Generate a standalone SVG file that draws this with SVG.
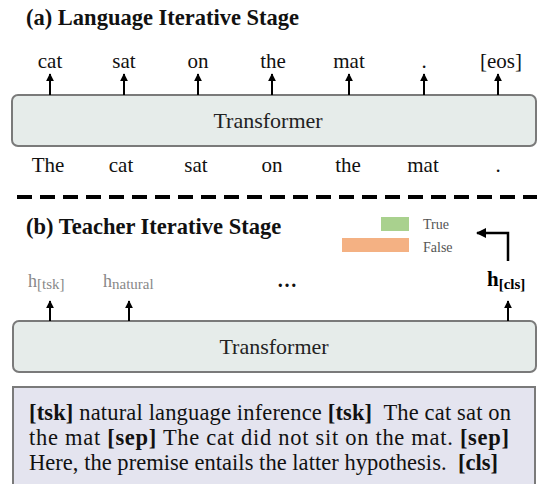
<svg xmlns="http://www.w3.org/2000/svg" width="537" height="484" viewBox="0 0 537 484">
<style>
text{font-family:"Liberation Serif","Times New Roman",serif;}
.t{font-size:21px;fill:#111;text-anchor:middle;}
.title{font-size:22.5px;font-weight:bold;fill:#111;}
.box{fill:#e6ecea;stroke:#7a7a7a;stroke-width:2;}
.lbl{font-size:22px;fill:#222;text-anchor:middle;}
.h{font-size:18px;fill:#888;}
.leg{font-size:14px;fill:#555;}
.body{font-size:22.5px;fill:#111;}
.b{font-weight:bold;}
.conn line,.conn polyline{stroke:#000;stroke-width:2;fill:none;}
</style>
<defs>
<marker id="ah" viewBox="0 0 10 10" refX="9" refY="5" markerWidth="4" markerHeight="4" orient="auto" markerUnits="strokeWidth">
<path d="M0,0 L10,5 L0,10 z" fill="#000"/>
</marker>
</defs>

<g id="title-a"><text class="title" x="26" y="25">(a) Language Iterative Stage</text></g>

<g id="outputs-a">
<text class="t" x="50" y="68">cat</text>
<text class="t" x="124" y="68">sat</text>
<text class="t" x="198" y="68">on</text>
<text class="t" x="273" y="68">the</text>
<text class="t" x="349" y="68">mat</text>
<text class="t" x="424" y="68">.</text>
<text class="t" x="501" y="68">[eos]</text>
</g>

<g id="transformer-a">
<rect class="box" x="12" y="95" width="524" height="51" rx="6"/>
<text class="lbl" x="268" y="128">Transformer</text>
</g>

<g id="inputs-a">
<text class="t" x="48" y="172">The</text>
<text class="t" x="121" y="172">cat</text>
<text class="t" x="196" y="172">sat</text>
<text class="t" x="272" y="172">on</text>
<text class="t" x="348" y="172">the</text>
<text class="t" x="423" y="172">mat</text>
<text class="t" x="498" y="172">.</text>
</g>

<g id="divider">
<line x1="17" y1="197" x2="537" y2="197" stroke="#000" stroke-width="4" stroke-dasharray="15,8"/>
</g>

<g id="title-b"><text class="title" x="26" y="234">(b) Teacher Iterative Stage</text></g>

<g id="legend">
<rect x="381" y="217" width="28" height="14" fill="#a9d18e"/>
<rect x="342" y="238" width="67" height="14" fill="#f4b183"/>
<text class="leg" x="423" y="229">True</text>
<text class="leg" x="423" y="252">False</text>
</g>

<g id="hidden-b">
<text class="h" x="28" y="287">h<tspan font-size="15" dy="2">[tsk]</tspan></text>
<text class="h" x="103" y="287">h<tspan font-size="15" dy="2">natural</tspan></text>
<text x="277" y="287" font-size="20" font-weight="bold" fill="#111">…</text>
<text x="487" y="286" font-size="21" font-weight="bold" fill="#000">h<tspan font-size="15" dy="3">[cls]</tspan></text>
</g>

<g id="transformer-b">
<rect class="box" x="13" y="321" width="523" height="51" rx="6"/>
<text class="lbl" x="274" y="354">Transformer</text>
</g>

<g id="input-b">
<rect x="13" y="387" width="522" height="100" fill="#e4e4ef" stroke="#7a7a7a" stroke-width="2"/>
<text class="body" x="29" y="420" xml:space="preserve" textLength="482" lengthAdjust="spacing"><tspan class="b">[tsk]</tspan> natural language inference <tspan class="b">[tsk]</tspan>  The cat sat on</text>
<text class="body" x="29" y="445" xml:space="preserve" textLength="480" lengthAdjust="spacing">the mat <tspan class="b">[sep]</tspan> The cat did not sit on the mat. <tspan class="b">[sep]</tspan></text>
<text class="body" x="29" y="470" xml:space="preserve" textLength="469" lengthAdjust="spacing">Here, the premise entails the latter hypothesis.  <tspan class="b">[cls]</tspan></text>
</g>

<g id="connectors" class="conn">
<line x1="50" y1="95" x2="50" y2="74" marker-end="url(#ah)"/>
<line x1="124" y1="95" x2="124" y2="74" marker-end="url(#ah)"/>
<line x1="198" y1="95" x2="198" y2="74" marker-end="url(#ah)"/>
<line x1="272" y1="95" x2="272" y2="74" marker-end="url(#ah)"/>
<line x1="349" y1="95" x2="349" y2="74" marker-end="url(#ah)"/>
<line x1="424" y1="95" x2="424" y2="74" marker-end="url(#ah)"/>
<line x1="498" y1="95" x2="498" y2="74" marker-end="url(#ah)"/>
<line x1="50" y1="321" x2="50" y2="301" marker-end="url(#ah)"/>
<line x1="129" y1="321" x2="129" y2="301" marker-end="url(#ah)"/>
<line x1="508" y1="321" x2="508" y2="301" marker-end="url(#ah)"/>
<polyline points="508,261 508,233 477,233" style="stroke-width:2.5" marker-end="url(#ah)"/>
</g>
</svg>
